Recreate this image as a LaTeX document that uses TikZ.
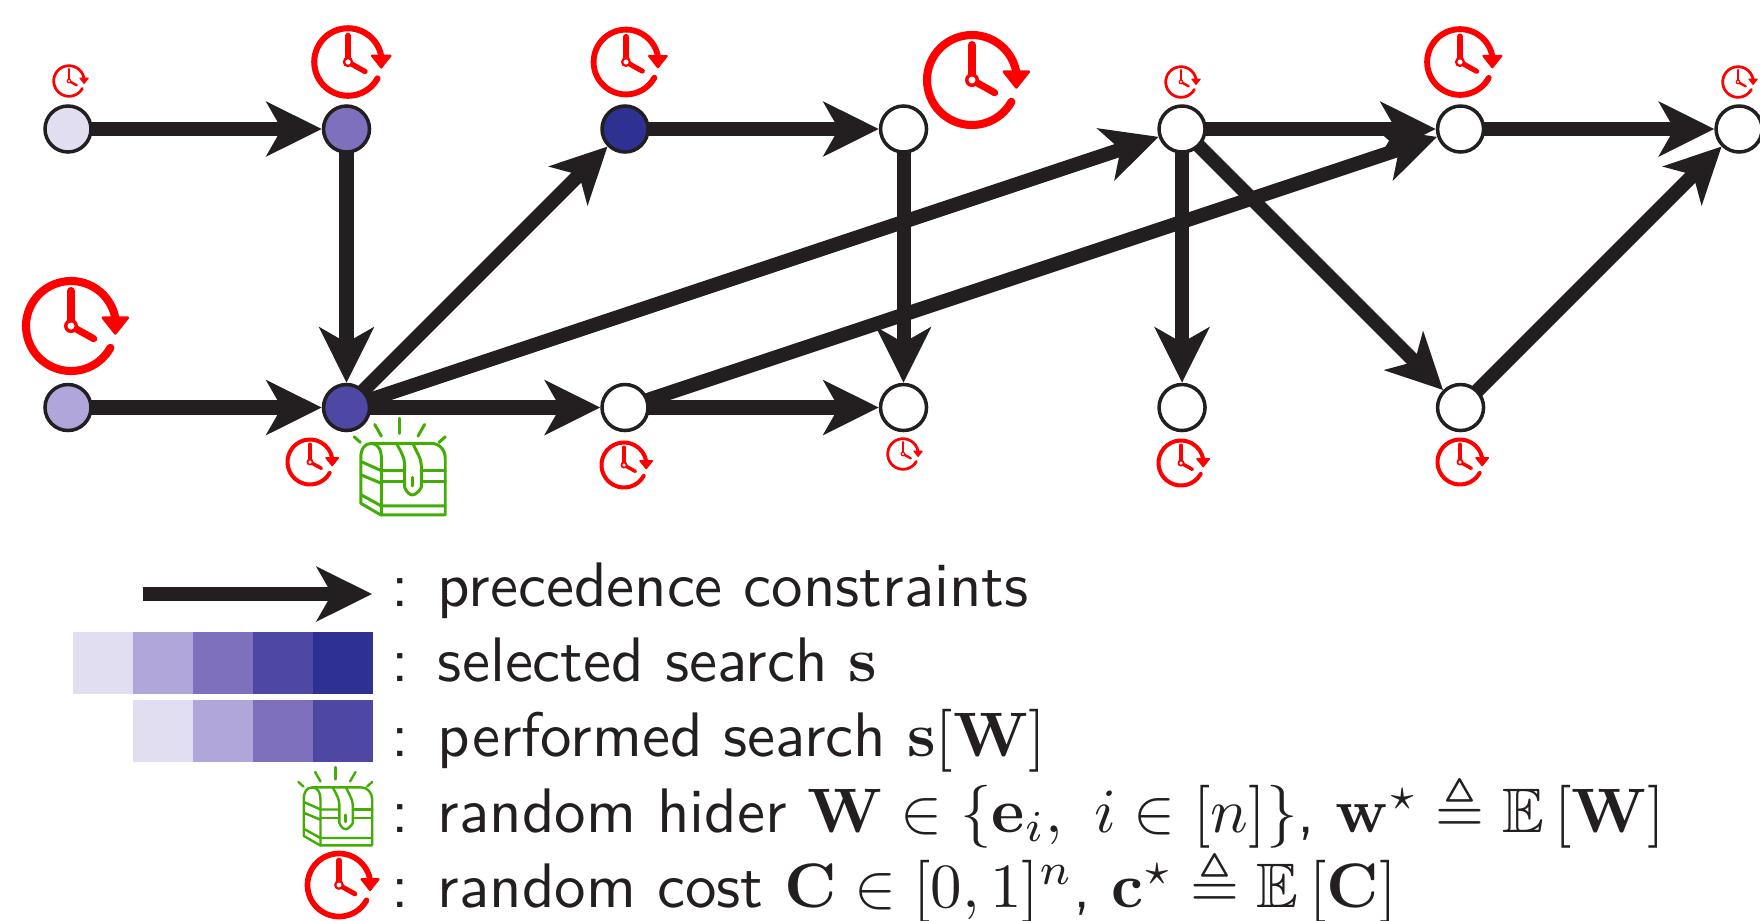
\documentclass[tikz,border=0pt]{standalone}
\usepackage{amsmath,amssymb}
\usepackage{xcolor}
\usetikzlibrary{positioning,arrows.meta}
\definecolor{ink}{RGB}{35,31,32}
\definecolor{shadea}{RGB}{226,222,242}
\definecolor{shadeb}{RGB}{176,166,218}
\definecolor{shadec}{RGB}{126,112,188}
\definecolor{shaded}{RGB}{78,71,163}
\definecolor{shadee}{RGB}{46,49,146}
\definecolor{chestgreen}{RGB}{67,172,5}
\tikzset{
  task/.style={circle, draw=ink, fill=white, minimum size=4.6mm, inner sep=0pt,
    line width=1pt},
  flow/.style={-{Stealth[length=15.7pt, width=15.4pt, inset=4.3pt]}, line width=4pt, draw=ink,
    shorten <=-0.6pt},
  cell/.style={minimum width=6mm, minimum height=6.2mm, inner sep=0pt, outer sep=0pt},
  legend/.style={anchor=base west, inner sep=0pt, text=ink, font=\sffamily,
    scale=1.79, transform shape},
  pics/clockicon/.style={code={
    \begin{scope}[scale=#1]
      \draw[red, line width=#1*2.3pt, line cap=round]
        (-29:0.45) arc[start angle=-29, end angle=-349, radius=0.45];
      \fill[red, draw=red, line width=#1*0.8pt, line join=round]
        (0.32,0.083) -- (0.567,0.083) -- (0.443,-0.073) -- cycle;
      \draw[red, line width=#1*2.3pt, line cap=round] (0,0) -- (0,0.35);
      \draw[red, line width=#1*2pt, line cap=round] (0,0) -- (0.227,-0.127);
      \fill[red] (0,0) circle[radius=0.07];
      \fill[white] (0,0) circle[radius=0.035];
    \end{scope}}},
  pics/chesticon/.style={code={
    \begin{scope}[scale=#1, x=0.0033333cm, y=-0.0033333cm, shift={(-310,-240)},
        chestgreen, line width=#1*0.85pt, line cap=round, line join=round]
      \draw (183,310) -- (183,175) .. controls (183,145) and (195,130) .. (215,130)
        -- (395,130) .. controls (420,130) and (437,150) .. (437,175)
        -- (437,345) -- (243,345) -- cycle;
      \draw (215,130) .. controls (235,130) and (245,150) .. (245,175) -- (245,345);
      \draw (185,185) -- (245,212) -- (315,212);
      \draw (365,212) -- (437,212);
      \draw (185,225) -- (245,250);
      \draw (245,243) -- (315,243);
      \draw (365,243) -- (437,243);
      \draw (185,285) -- (245,318) -- (437,318);
      \draw (290,130) .. controls (305,155) and (315,175) .. (315,195) -- (315,262)
        .. controls (320,275) and (330,285) .. (338,285)
        .. controls (348,285) and (360,272) .. (365,262) -- (365,195)
        .. controls (365,175) and (350,155) .. (340,130);
      \draw (338,232) -- (338,258);
      \draw (163,110) -- (182,127);
      \draw (225,73) -- (245,108);
      \draw (300,55) -- (300,100);
      \draw (375,73) -- (355,108);
      \draw (437,110) -- (418,127);
    \end{scope}}},
}
\begin{document}
\begin{tikzpicture}[node distance=22.9mm]
  \useasboundingbox (0,0) rectangle (17.6,-9.2);
  % search graph
  \node[task, fill=shadea] (t1) at (0.68,-1.29) {};
  \node[task, fill=shadec, right=of t1] (t2) {};
  \node[task, fill=shadee, right=of t2] (t3) {};
  \node[task, right=of t3] (t4) {};
  \node[task, right=of t4] (t5) {};
  \node[task, right=of t5] (t6) {};
  \node[task, right=of t6] (t7) {};
  \node[task, fill=shadeb, below=of t1] (b1) {};
  \node[task, fill=shaded, below=of t2] (b2) {};
  \node[task, below=of t3] (b3) {};
  \node[task, below=of t4] (b4) {};
  \node[task, below=of t5] (b5) {};
  \node[task, below=of t6] (b6) {};
  \draw[flow] (t1)--(t2); \draw[flow] (b1)--(b2); \draw[flow] (t2)--(b2);
  \draw[flow] (b2)--(t3); \draw[flow] (b2)--(t5); \draw[flow] (b2)--(b3);
  \draw[flow] (t3)--(t4); \draw[flow] (t4)--(b4); \draw[flow] (b3)--(b4);
  \draw[flow] (b3)--(t6); \draw[flow] (t5)--(t6); \draw[flow] (t5)--(b5);
  \draw[flow] (t5)--(b6); \draw[flow] (t6)--(t7); \draw[flow] (b6)--(t7);
  % costs on the tasks
  \pic at (0.69,-0.81) {clockicon=0.34};
  \pic at (3.48,-0.62) {clockicon=0.75};
  \pic at (6.26,-0.62) {clockicon=0.72};
  \pic at (9.72,-0.80) {clockicon=1};
  \pic at (11.81,-0.82) {clockicon=0.34};
  \pic at (14.60,-0.62) {clockicon=0.73};
  \pic at (17.38,-0.82) {clockicon=0.34};
  \pic at (0.71,-3.26) {clockicon=1};
  \pic at (3.10,-4.62) {clockicon=0.5};
  \pic at (6.24,-4.65) {clockicon=0.5};
  \pic at (9.03,-4.54) {clockicon=0.34};
  \pic at (11.81,-4.63) {clockicon=0.5};
  \pic at (14.60,-4.62) {clockicon=0.5};
  \pic at (4.03,-4.80) {chesticon=1};
  % legend
  \coordinate (la) at (1.45,-5.94);
  \coordinate (lb) at (3.72,-5.94);
  \draw[flow] (la)--(lb);
  \node[cell, fill=shadea] (s1) at (1.03,-6.63) {};
  \node[cell, fill=shadeb, right=0pt of s1] (s2) {};
  \node[cell, fill=shadec, right=0pt of s2] (s3) {};
  \node[cell, fill=shaded, right=0pt of s3] (s4) {};
  \node[cell, fill=shadee, right=0pt of s4] (s5) {};
  \node[cell, fill=shadea] (p1) at (1.63,-7.31) {};
  \node[cell, fill=shadeb, right=0pt of p1] (p2) {};
  \node[cell, fill=shadec, right=0pt of p2] (p3) {};
  \node[cell, fill=shaded, right=0pt of p3] (p4) {};
  \pic at (3.38,-8.17) {chesticon=0.81};
  \pic at (3.39,-8.85) {clockicon=0.7};
  \node[legend] (l1) at (3.90,-6.06) {:\hspace{4.65pt}precedence constraints};
  \node[legend] (l2) at (3.90,-6.81) {:\hspace{4.65pt}selected search $\mathbf{s}$};
  \node[legend] (l3) at (3.90,-7.56) {:\hspace{4.65pt}performed search $\mathbf{s}[\mathbf{W}]$};
  \node[legend] (l4) at (3.90,-8.32) {:\hspace{4.65pt}random hider $\mathbf{W}\in\{\mathbf{e}_i,\ i\in[n]\}$, $\mathbf{w}^\star\triangleq\mathbb{E}\left[\mathbf{W}\right]$};
  \node[legend] (l5) at (3.90,-9.07) {:\hspace{4.65pt}random cost $\mathbf{C}\in[0,1]^n$, $\mathbf{c}^\star\triangleq\mathbb{E}\left[\mathbf{C}\right]$};
\end{tikzpicture}
\end{document}
